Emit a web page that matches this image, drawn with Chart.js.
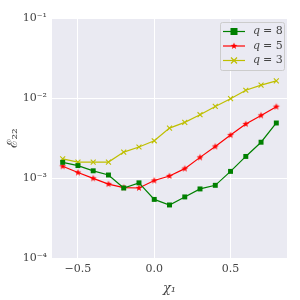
<!DOCTYPE html>
<html>
<head>
<meta charset="utf-8">
<script src="https://cdn.jsdelivr.net/npm/chart.js@4/dist/chart.umd.min.js"></script>
<style>
  html, body { margin: 0; padding: 0; background: #fff; }
  #wrap { width: 300px; height: 300px; }
</style>
</head>
<body>
<div id="wrap"><canvas id="c" width="300" height="300"></canvas></div>
<script>
/* ── data ── */
const chi = [-0.6, -0.5, -0.4, -0.3, -0.2, -0.1, 0.0, 0.1, 0.2, 0.3, 0.4, 0.5, 0.6, 0.7, 0.8];
const q8  = [1.57e-3, 1.43e-3, 1.23e-3, 1.09e-3, 7.5e-4, 8.7e-4, 5.4e-4, 4.6e-4, 5.8e-4, 7.3e-4, 8.1e-4, 1.21e-3, 1.86e-3, 2.8e-3, 4.87e-3];
const q5  = [1.40e-3, 1.17e-3, 9.9e-4, 8.4e-4, 7.6e-4, 7.5e-4, 9.3e-4, 1.06e-3, 1.31e-3, 1.81e-3, 2.48e-3, 3.44e-3, 4.73e-3, 6.06e-3, 7.79e-3];
const q3  = [1.73e-3, 1.58e-3, 1.58e-3, 1.58e-3, 2.11e-3, 2.44e-3, 2.92e-3, 4.2e-3, 4.96e-3, 6.18e-3, 7.85e-3, 9.8e-3, 1.25e-2, 1.45e-2, 1.64e-2];
const seriesLabels = ['8', '5', '3'];
const xTicks = [-0.5, 0.0, 0.5];
const xTickLabels = ['\u22120.5', '0.0', '0.5'];
const yTicks = [1e-4, 1e-3, 1e-2, 1e-1];
const yTickLabels = ['10\u207B\u2074', '10\u207B\u00B3', '10\u207B\u00B2', '10\u207B\u00B9'];

const GREEN = '#008000', RED = '#ff0000', YELLOW = '#bfbf00';
const SERIF = '"DejaVu Serif", "Liberation Serif", serif';

/* ── filled star marker ── */
function makeStar(color, r) {
  const s = Math.ceil(r * 2 + 2);
  const cv = document.createElement('canvas');
  cv.width = s; cv.height = s;
  const g = cv.getContext('2d');
  g.fillStyle = color;
  g.beginPath();
  for (let i = 0; i < 10; i++) {
    const rad = i % 2 === 0 ? r : r * 0.4;
    const a = -Math.PI / 2 + i * Math.PI / 5;
    const px = s / 2 + rad * Math.cos(a), py = s / 2 + rad * Math.sin(a);
    if (i === 0) g.moveTo(px, py); else g.lineTo(px, py);
  }
  g.closePath();
  g.fill();
  return cv;
}
const starImg = makeStar(RED, 3.6);

const toXY = arr => arr.map((v, i) => ({ x: chi[i], y: v }));

/* ── plot background ── */
const bgPlugin = {
  id: 'bg',
  beforeDraw(chart) {
    const { ctx, chartArea: a } = chart;
    ctx.save();
    ctx.fillStyle = '#eaeaf2';
    ctx.fillRect(a.left, a.top, a.right - a.left, a.bottom - a.top);
    ctx.restore();
  }
};

/* ── legend drawn inside the axes, matplotlib style ── */
const legendPlugin = {
  id: 'mplLegend',
  afterDatasetsDraw(chart) {
    const ctx = chart.ctx;
    const x0 = 220, y0 = 22, w = 64, h = 48;
    ctx.save();
    ctx.fillStyle = 'rgba(234,234,242,0.8)';
    ctx.strokeStyle = '#cccccc';
    ctx.lineWidth = 1;
    ctx.beginPath();
    ctx.roundRect(x0 + 0.5, y0 + 0.5, w, h, 2);
    ctx.fill();
    ctx.stroke();
    chart.data.datasets.forEach((ds, i) => {
      const y = y0 + 9.5 + i * 14.5;
      ctx.strokeStyle = ds.borderColor;
      ctx.lineWidth = 1.2;
      ctx.beginPath();
      ctx.moveTo(x0 + 3, y);
      ctx.lineTo(x0 + 25, y);
      ctx.stroke();
      const mx = x0 + 14;
      if (ds.pointStyle === 'rect') {
        ctx.fillStyle = ds.borderColor;
        ctx.fillRect(mx - 3.5, y - 3.5, 7, 7);
      } else if (ds.pointStyle === 'crossRot') {
        ctx.beginPath();
        ctx.moveTo(mx - 3, y - 3); ctx.lineTo(mx + 3, y + 3);
        ctx.moveTo(mx + 3, y - 3); ctx.lineTo(mx - 3, y + 3);
        ctx.stroke();
      } else {
        ctx.drawImage(starImg, mx - starImg.width / 2, y - starImg.height / 2);
      }
      ctx.fillStyle = '#444';
      ctx.textBaseline = 'middle';
      ctx.font = 'italic 11px ' + SERIF;
      ctx.fillText('q', x0 + 33, y);
      ctx.font = '11px ' + SERIF;
      ctx.fillText('= ' + seriesLabels[i], x0 + 43, y);
    });
    ctx.restore();
  }
};

new Chart(document.getElementById('c'), {
  type: 'line',
  data: {
    datasets: [
      { data: toXY(q8), borderColor: GREEN, backgroundColor: GREEN, pointStyle: 'rect',
        pointRadius: 3.5, pointBorderWidth: 0, borderWidth: 1.2 },
      { data: toXY(q5), borderColor: RED, backgroundColor: RED, pointStyle: starImg,
        pointRadius: 3.5, pointBorderWidth: 0, borderWidth: 1.2 },
      { data: toXY(q3), borderColor: YELLOW, backgroundColor: YELLOW, pointStyle: 'crossRot',
        pointRadius: 3.5, pointBorderWidth: 1.1, borderWidth: 1.2 }
    ]
  },
  options: {
    responsive: false,
    animation: false,
    events: [],
    layout: { padding: { left: 0, top: 18, right: 13, bottom: 0 } },
    plugins: { legend: { display: false }, tooltip: { enabled: false } },
    scales: {
      x: {
        type: 'linear',
        min: -0.67, max: 0.87,
        afterBuildTicks: s => { s.ticks = xTicks.map(v => ({ value: v })); },
        afterFit: s => { s.height = 42; },
        grid: { color: '#ffffff', lineWidth: 1, drawTicks: false },
        border: { display: false },
        ticks: {
          padding: 5, color: '#444', font: { family: SERIF, size: 11 },
          callback: v => xTickLabels[xTicks.indexOf(v)]
        },
        title: { display: true, text: '\u03C7\u2081', color: '#444',
                 font: { family: SERIF, size: 13, style: 'italic' }, padding: { top: 1 } }
      },
      y: {
        type: 'logarithmic',
        min: 1e-4, max: 1e-1,
        afterBuildTicks: s => { s.ticks = yTicks.map(v => ({ value: v, major: true })); },
        afterFit: s => { s.width = 52; },
        grid: { color: '#ffffff', lineWidth: 1, drawTicks: false },
        border: { display: false },
        ticks: {
          padding: 5, color: '#444', font: { family: SERIF, size: 11 },
          callback: v => yTickLabels[yTicks.indexOf(v)]
        },
        title: { display: true, text: '\u2130\u2082\u2082', color: '#444',
                 font: { family: SERIF, size: 14 }, padding: { top: 5, bottom: 0 } }
      }
    }
  },
  plugins: [bgPlugin, legendPlugin]
});
</script>
</body>
</html>
